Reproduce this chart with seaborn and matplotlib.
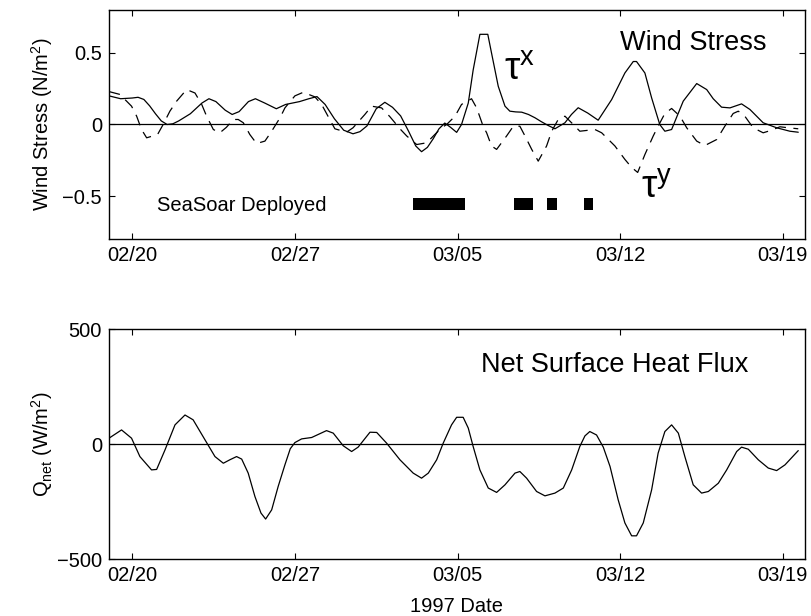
import matplotlib
matplotlib.use("Agg")
import matplotlib.pyplot as plt
import seaborn as sns

sns.set_theme(style="ticks")
plt.rcParams["font.family"] = ["Liberation Sans", "DejaVu Sans"]
plt.rcParams["mathtext.fontset"] = "custom"
plt.rcParams["mathtext.rm"] = "Liberation Sans"
plt.rcParams["mathtext.it"] = "Liberation Sans"
plt.rcParams["text.color"] = "black"
plt.rcParams["axes.labelcolor"] = "black"

# days since 02/20 (1997)
tick_days = [0, 7, 14, 21, 28]
tick_labels = ["02/20", "02/27", "03/05", "03/12", "03/19"]

# wind stress, east component (N/m^2)
taux_day = [-1.0, -0.5, 0.0, 0.25, 0.5, 0.75, 1.0, 1.25, 1.5, 1.75, 2.0, 2.5, 3.0, 3.3,
            3.6, 4.0, 4.3, 4.6, 5.0, 5.3, 5.7, 6.2, 6.6, 7.2, 7.6, 7.95, 8.3, 8.7, 9.1,
            9.5, 9.8, 10.1, 10.5, 10.87, 11.2, 11.55, 11.9, 12.2, 12.45, 12.7, 12.95,
            13.2, 13.45, 13.7, 13.96, 14.17, 14.46, 14.67, 14.96, 15.3, 15.46, 15.75,
            16.04, 16.25, 16.5, 16.76, 17.05, 17.33, 17.6, 17.9, 18.19, 18.62, 18.9,
            19.19, 19.6, 20.05, 20.63, 21.2, 21.56, 21.7, 22.06, 22.35, 22.7, 22.92,
            23.21, 23.71, 24.29, 24.72, 25.0, 25.36, 25.72, 26.22, 26.58, 27.15, 27.73,
            28.3, 28.66]
taux = [0.20, 0.18, 0.185, 0.19, 0.175, 0.13, 0.075, 0.025, 0.0, 0.005, 0.025, 0.075,
        0.15, 0.18, 0.16, 0.10, 0.07, 0.09, 0.16, 0.18, 0.15, 0.11, 0.14, 0.16, 0.18,
        0.195, 0.14, 0.04, -0.04, -0.065, -0.05, -0.01, 0.11, 0.155, 0.12, 0.06, -0.05,
        -0.15, -0.19, -0.16, -0.10, -0.03, 0.01, -0.02, -0.055, 0.0, 0.15, 0.38, 0.63,
        0.63, 0.50, 0.267, 0.128, 0.093, 0.088, 0.086, 0.07, 0.047, 0.02, -0.007, -0.03,
        0.012, 0.07, 0.117, 0.08, 0.03, 0.174, 0.36, 0.44, 0.44, 0.36, 0.186, 0.0,
        -0.047, -0.035, 0.163, 0.286, 0.244, 0.18, 0.121, 0.116, 0.144, 0.105, 0.012,
        -0.023, -0.047, -0.054]

# wind stress, north component (N/m^2)
tauy_day = [-1.0, -0.53, -0.03, 0.19, 0.4, 0.62, 1.09, 1.33, 1.62, 1.91, 2.34, 2.7, 2.99,
            3.2, 3.49, 3.77, 4.05, 4.35, 4.56, 4.78, 5.06, 5.35, 5.71, 6.0, 6.36, 6.57,
            7.0, 7.36, 7.86, 8.15, 8.5, 8.72, 9.22, 9.5, 10.01, 10.3, 10.73, 11.09,
            11.52, 11.81, 12.24, 12.67, 13.02, 13.31, 13.53, 13.89, 14.17, 14.6, 14.82,
            15.1, 15.25, 15.46, 15.68, 16.11, 16.4, 16.68, 16.9, 17.19, 17.47, 17.83,
            18.05, 18.33, 18.62, 18.98, 19.26, 19.91, 20.2, 20.77, 21.2, 21.49, 21.75,
            22.06, 22.42, 22.63, 22.92, 23.21, 23.57, 23.86, 24.29, 24.64, 25.15, 25.5,
            25.86, 26.08, 26.36, 26.72, 27.15, 27.51, 27.87, 28.23, 28.66]
tauy = [0.23, 0.21, 0.128, 0.058, -0.035, -0.093, -0.07, 0.0, 0.093, 0.163, 0.244, 0.22,
        0.14, 0.058, -0.035, -0.058, -0.02, 0.035, 0.035, 0.012, -0.07, -0.133, -0.116,
        -0.047, 0.047, 0.116, 0.2, 0.225, 0.193, 0.14, 0.035, -0.03, -0.054, -0.023,
        0.07, 0.128, 0.116, 0.054, -0.03, -0.08, -0.14, -0.128, -0.07, -0.023, 0.0,
        0.058, 0.14, 0.18, 0.116, -0.012, -0.058, -0.15, -0.174, -0.08, -0.012, -0.012,
        -0.08, -0.174, -0.256, -0.15, -0.047, 0.035, 0.058, 0.0, -0.047, -0.035, -0.058,
        -0.15, -0.244, -0.30, -0.335, -0.21, -0.08, -0.012, 0.077, 0.112, 0.058, -0.023,
        -0.116, -0.147, -0.105, -0.012, 0.077, 0.093, 0.058, -0.023, -0.058, -0.04,
        -0.016, -0.023, -0.03]

# SeaSoar deployment periods (days since 02/20)
seasoar_start = [12.09, 12.4, 16.44, 17.86, 19.45]
seasoar_end = [12.4, 14.33, 17.23, 18.29, 19.81]

# net surface heat flux (W/m^2)
qnet_day = [-1.0, -0.46, -0.03, 0.33, 0.83, 1.05, 1.41, 1.84, 2.27, 2.62, 3.13, 3.56,
            3.92, 4.2, 4.49, 4.71, 4.99, 5.28, 5.54, 5.74, 6.0, 6.28, 6.57, 6.8, 7.0,
            7.29, 7.72, 8.36, 8.65, 9.08, 9.44, 9.72, 10.23, 10.52, 10.95, 11.52, 12.09,
            12.45, 12.74, 13.1, 13.38, 13.74, 13.96, 14.24, 14.46, 14.67, 14.96, 15.32,
            15.68, 16.04, 16.47, 16.68, 16.97, 17.4, 17.76, 18.19, 18.55, 18.91, 19.26,
            19.48, 19.69, 19.98, 20.27, 20.56, 20.91, 21.2, 21.49, 21.7, 21.99, 22.35,
            22.63, 22.92, 23.21, 23.5, 23.78, 24.14, 24.5, 24.79, 25.22, 25.58, 26.01,
            26.22, 26.51, 26.94, 27.37, 27.73, 28.09, 28.66]
qnet = [26, 62, 26, -54, -112, -110, -25, 84, 127, 106, 19, -54, -83, -68, -54, -65,
        -126, -228, -300, -326, -286, -184, -90, -20, 7, 23, 29, 59, 48, -7, -32, -13,
        52, 51, 4, -68, -126, -148, -126, -68, 4, 84, 117, 117, 70, -10, -112, -191,
        -210, -177, -126, -119, -148, -206, -225, -213, -191, -112, -10, 36, 55, 40,
        -13, -97, -242, -343, -399, -399, -343, -199, -39, 55, 84, 48, -54, -177, -213,
        -206, -170, -112, -32, -13, -22, -68, -104, -115, -90, -28]

fig = plt.figure(figsize=(8.11, 6.16), dpi=100)
ax1 = fig.add_axes([0.1344, 0.612, 0.8582, 0.3718])
ax2 = fig.add_axes([0.1344, 0.0925, 0.8582, 0.3729])

lw = 0.9
# Top panel: wind stress
sns.lineplot(x=taux_day, y=taux, ax=ax1, color="black", lw=lw, estimator=None, sort=False)
sns.lineplot(x=tauy_day, y=tauy, ax=ax1, color="black", lw=lw, estimator=None, sort=False,
             linestyle=(0, (9, 6)))
ax1.axhline(0, color="black", lw=lw)
ax1.broken_barh([(s, e - s) for s, e in zip(seasoar_start, seasoar_end)], (-0.598, 0.087),
                facecolor="black", edgecolor="none")
ax1.set_ylim(-0.8, 0.8)
ax1.set_yticks([-0.5, 0, 0.5])
ax1.set_yticklabels(["\u22120.5", "0", "0.5"])
ax1.set_ylabel("Wind Stress (N/m$^2$)", fontsize=14.5)
ax1.text(0.069, 0.148, "SeaSoar Deployed", transform=ax1.transAxes, fontsize=14.5,
         va="center", ha="left")
ax1.text(0.734, 0.858, "Wind Stress", transform=ax1.transAxes, fontsize=19.5,
         va="center", ha="left")
ax1.text(0.567, 0.694, "\u03c4$^{\\mathrm{x}}$", transform=ax1.transAxes, fontsize=28,
         va="baseline", ha="left")
ax1.text(0.765, 0.179, "\u03c4$^{\\mathrm{y}}$", transform=ax1.transAxes, fontsize=28,
         va="baseline", ha="left")

# Bottom panel: net surface heat flux
sns.lineplot(x=qnet_day, y=qnet, ax=ax2, color="black", lw=lw, estimator=None, sort=False)
ax2.axhline(0, color="black", lw=lw)
ax2.set_ylim(-500, 500)
ax2.set_yticks([-500, 0, 500])
ax2.set_yticklabels(["\u2212500", "0", "500"])
ax2.set_ylabel("Q$_{\\mathrm{net}}$ (W/m$^2$)", fontsize=14.5)
ax2.set_xlabel("1997 Date", fontsize=14.5, labelpad=9)
ax2.text(0.534, 0.845, "Net Surface Heat Flux", transform=ax2.transAxes, fontsize=19.5,
         va="center", ha="left")

for ax in (ax1, ax2):
    ax.set_xlim(-1.0, 28.95)
    ax.set_xticks(tick_days)
    ax.set_xticklabels(tick_labels)
    ax.tick_params(direction="in", top=True, right=True, length=4, width=0.8,
                   labelsize=14.5, pad=5, colors="black")
    for sp in ax.spines.values():
        sp.set_linewidth(1.0)
        sp.set_color("black")
    ax.yaxis.set_label_coords(-0.078, 0.5)

fig.savefig("out.png", dpi=100)
